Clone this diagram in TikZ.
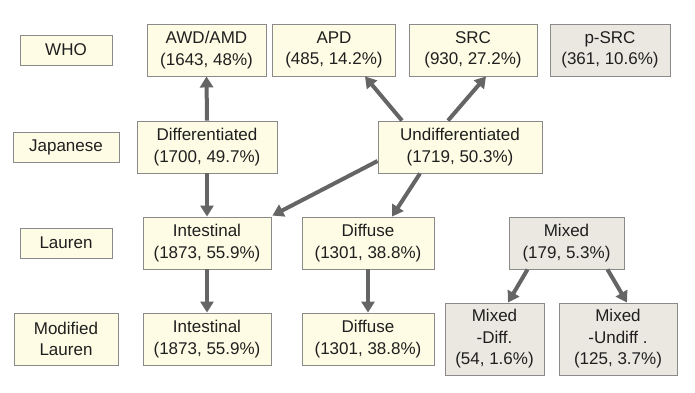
\documentclass[tikz,border=0pt]{standalone}
\usepackage{fontspec}
\setmainfont{Liberation Sans}
\usepackage{xcolor}
\usetikzlibrary{arrows.meta,calc}
\definecolor{boxyellow}{HTML}{FEFCE4}
\definecolor{boxgray}{HTML}{EAE8E1}
\definecolor{boxline}{HTML}{8A8A8A}
\definecolor{arrowgray}{HTML}{656565}

\begin{document}
\begin{tikzpicture}[x=1pt, y=-1pt,
  box/.style={draw=boxline, line width=0.9pt, fill=boxyellow, inner sep=0pt,
    align=center, text=black!88, font=\fontsize{17}{21.5}\selectfont},
  greybox/.style={box, fill=boxgray},
  flow/.style={draw=arrowgray, line width=4pt, -{Triangle[length=11pt,width=13pt]}}]
  \useasboundingbox (0,0) rectangle (695,392);
  % Row labels
  \node[box, minimum width=92pt, minimum height=30pt] (who) at (66,50) {WHO};
  \node[box, minimum width=106pt, minimum height=30pt] (jap) at (66,147) {Japanese};
  \node[box, minimum width=92pt, minimum height=30pt] (lau) at (66,243) {Lauren};
  \node[box, minimum width=104pt, minimum height=52pt] (mlau) at (66,339) {Modified\\Lauren};
  % WHO
  \node[box, minimum width=119pt, minimum height=52pt] (awd) at (206.5,50) {AWD/AMD\\(1643, 48\%)};
  \node[box, minimum width=123pt, minimum height=52pt] (apd) at (334,50) {APD\\(485, 14.2\%)};
  \node[box, minimum width=128pt, minimum height=52pt] (src) at (473,50) {SRC\\(930, 27.2\%)};
  \node[greybox, minimum width=120pt, minimum height=52pt] (psrc) at (610,50) {p-SRC\\(361, 10.6\%)};
  % Japanese
  \node[box, minimum width=140pt, minimum height=52pt] (diff) at (207,147) {Differentiated\\(1700, 49.7\%)};
  \node[box, minimum width=164pt, minimum height=52pt] (undiff) at (460,147) {Undifferentiated\\(1719, 50.3\%)};
  % Lauren
  \node[box, minimum width=128pt, minimum height=52pt] (int) at (207,243) {Intestinal\\(1873, 55.9\%)};
  \node[box, minimum width=132pt, minimum height=52pt] (dif) at (368,243) {Diffuse\\(1301, 38.8\%)};
  \node[greybox, minimum width=115pt, minimum height=52pt] (mix) at (566.5,243) {Mixed\\(179, 5.3\%)};
  % Modified Lauren
  \node[box, minimum width=128pt, minimum height=52pt] (mint) at (207,339) {Intestinal\\(1873, 55.9\%)};
  \node[box, minimum width=132pt, minimum height=52pt] (mdif) at (368,339) {Diffuse\\(1301, 38.8\%)};
  \node[greybox, minimum width=99pt, minimum height=72pt] (mixd) at (494.5,339) {Mixed\\-Diff.\\(54, 1.6\%)};
  \node[greybox, minimum width=118pt, minimum height=72pt] (mixu) at (618,339) {Mixed\\-Undiff .\\(125, 3.7\%)};
  % Arrows
  \draw[flow] (diff.north) -- (awd.south);
  \draw[flow] (diff.south) -- (int.north);
  \draw[flow] ([xshift=-58pt]undiff.north) -- ([xshift=31pt]apd.south);
  \draw[flow] ([xshift=-12pt]undiff.north) -- ([xshift=13pt]src.south);
  \draw[flow] ([yshift=-14pt]undiff.west) -- ([shift={(1pt,1pt)}]int.north east);
  \draw[flow] ([xshift=-40pt]undiff.south) -- ([xshift=24pt]dif.north);
  \draw[flow] (int.south) -- (mint.north);
  \draw[flow] (dif.south) -- (mdif.north);
  \draw[flow] ([xshift=-39pt]mix.south) -- ([xshift=13.5pt]mixd.north);
  \draw[flow] ([xshift=41pt]mix.south) -- ([xshift=9pt]mixu.north);
\end{tikzpicture}
\end{document}
